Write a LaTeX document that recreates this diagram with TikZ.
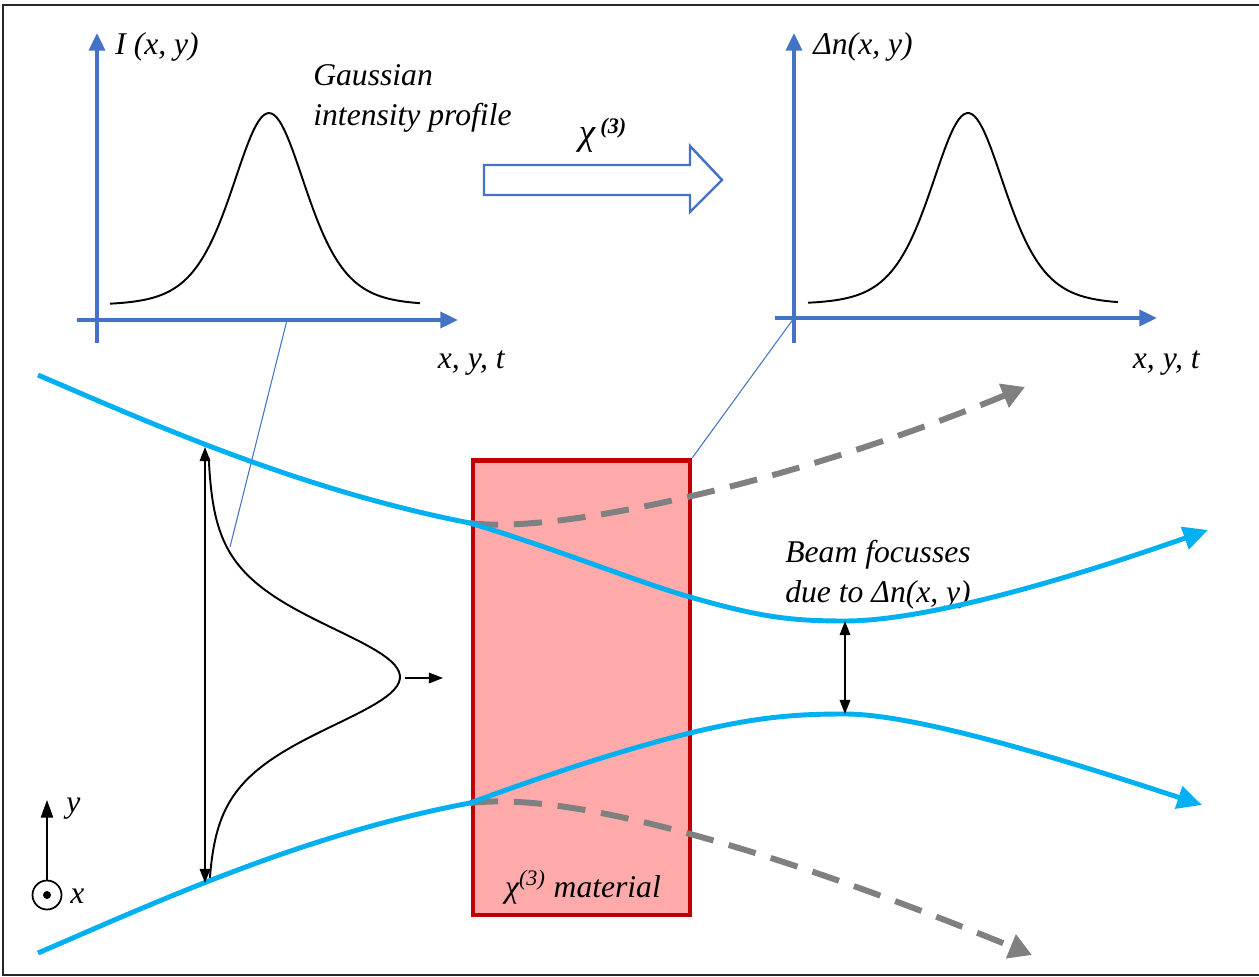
\documentclass[tikz,border=0pt]{standalone}
\usepackage{fontspec}
\setmainfont{Liberation Serif}
\usetikzlibrary{arrows.meta,positioning}
\definecolor{axisblue}{HTML}{4472C4}
\definecolor{beam}{HTML}{00B0F0}
\definecolor{matred}{HTML}{C00000}
\definecolor{matfill}{HTML}{FFAAAA}
\definecolor{ghost}{HTML}{808080}
\tikzset{
  ax/.style={axisblue,line width=2.2pt,-{Triangle[length=10pt,width=9pt]}},
  bell/.style={black,line width=1.1pt},
  beamline/.style={beam,line width=2.8pt,-{Triangle[length=14pt,width=13pt]}},
  ghostline/.style={ghost,line width=3.4pt,dash pattern=on 16pt off 9pt,
                    -{Triangle[length=13pt,width=14pt]}},
  guide/.style={axisblue,line width=0.6pt},
  dim/.style={black,line width=0.9pt,
              {Triangle[length=8pt,width=6pt]}-{Triangle[length=8pt,width=6pt]}},
  lbl/.style={inner sep=0pt},
}
\begin{document}
\begin{tikzpicture}[x=0.02cm,y=-0.02cm,font=\fontsize{18}{22.7}\selectfont\itshape]
  \useasboundingbox (0,0) rectangle (1259,977);
  \draw[line width=1.7pt,black!85] (1259,5) -- (3,5) -- (3,975) -- (1259,975);

  % intensity graph
  \coordinate (lorig) at (97,320);
  \coordinate (lfoot) at (287,320);
  \draw[ax] (77,320) -- (458,320);
  \draw[ax] (97,343) -- (97,33);
  \draw[bell] plot[domain=110:420,samples=120]
    (\x,{305-192*4/(exp((\x-269)/50)+exp(-(\x-269)/50))^2});
  \node[lbl,anchor=base west] (Ilab) at (115,54) {I (x, y)};
  \node[lbl,anchor=base west,align=left] (gauss) at (313,125) {Gaussian\\intensity profile};
  \node[lbl,anchor=base east] (Ixlab) at (505,368) {x, y, t};

  % index graph
  \coordinate (rorig) at (794,318);
  \draw[ax] (775,318) -- (1157,318);
  \draw[ax] (794,343) -- (794,33);
  \draw[bell] plot[domain=808:1118,samples=120]
    (\x,{304-191*4/(exp((\x-968)/50)+exp(-(\x-968)/50))^2});
  \node[lbl,anchor=base west] (nlab) at (813,54) {Δn(x, y)};
  \node[lbl,anchor=base east] (nxlab) at (1200,368) {x, y, t};

  % chi(3) arrow
  \draw[axisblue,line width=1.4pt,line join=miter]
    (484,165) -- (690,165) -- (690,146) -- (722,180) -- (690,212)
    -- (690,195) -- (484,195) -- cycle;
  \node[lbl] (chi) at (603,135) {{\fontsize{21}{24}\selectfont χ}\,\textsuperscript{\bfseries(3)}};

  % material
  \node[draw=matred,fill=matfill,line width=2.8pt,minimum width=4.34cm,
        minimum height=9.1cm,inner sep=0pt] (mat) at (581.5,687.5) {};
  \node[lbl,anchor=base] (matlab) at (583,897) {χ\textsuperscript{(3)} material};

  \draw[guide] (lfoot) -- (230,547);
  \draw[guide] (rorig) -- (mat.north east);

  % pulse
  \draw[bell] plot[domain=458:882,samples=120,variable=\t]
    ({207+193*4/(exp((\t-677)/72)+exp(-(\t-677)/72))^2},\t);
  \coordinate (ptip) at (405,678);
  \draw[black,line width=0.9pt,-{Triangle[length=8pt,width=6pt]}] (ptip) -- (443,678);

  \node[lbl,anchor=base west,align=left] (focus) at (785,602) {Beam focusses\\due to Δn(x, y)};

  % beams
  \coordinate (inup) at (470,523);
  \coordinate (inlo) at (470,803);
  \coordinate (outup) at (690,597);
  \coordinate (outlo) at (690,733);
  \coordinate (waistup) at (845,621);
  \coordinate (waistlo) at (845,714);
  \draw[ghostline] (inup) .. controls (560,535) and (800,480) .. (1025,387);
  \draw[ghostline] (inlo) .. controls (580,790) and (800,860) .. (1032,955);
  \draw[beamline] (38,375) .. controls (150,423) and (300,490) .. (inup)
    .. controls (560,550) and (640,583) .. (outup)
    .. controls (760,617) and (790,621) .. (waistup)
    .. controls (930,621) and (1080,575) .. (1208,530);
  \draw[beamline] (38,953) .. controls (150,905) and (300,835) .. (inlo)
    .. controls (560,770) and (630,748) .. (outlo)
    .. controls (760,716) and (800,714) .. (waistlo)
    .. controls (920,714) and (1080,765) .. (1202,805);

  \draw[dim] (205,447) -- (205,883);
  \draw[dim] (waistup) -- (waistlo);

  % axes key
  \node[draw,circle,line width=1pt,minimum size=0.58cm,inner sep=0pt] (xdir) at (47,895) {};
  \fill (xdir.center) circle (4);
  \draw[black,line width=0.8pt,-{Triangle[length=10pt,width=7pt]}] (xdir.north) -- (47,800);
  \node[lbl,anchor=base west] (ylab) at (66,812) {y};
  \node[lbl,anchor=base west] (xlab) at (70,903) {x};
\end{tikzpicture}
\end{document}
